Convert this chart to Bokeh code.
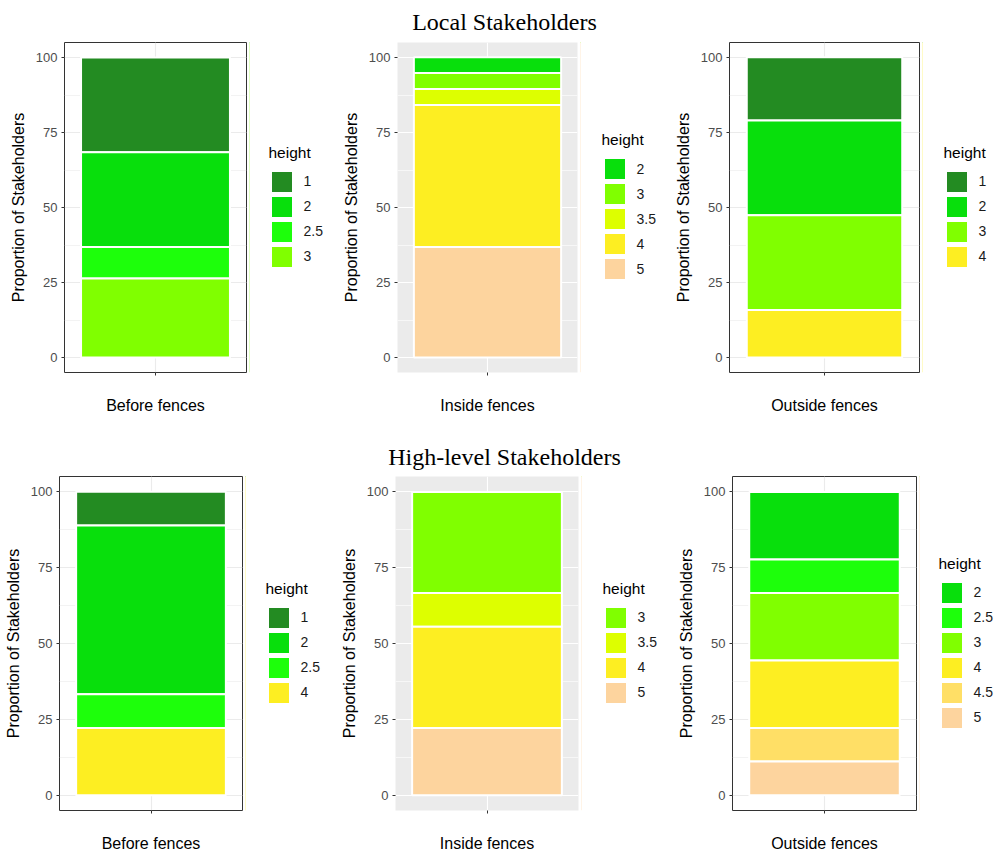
from bokeh.plotting import figure
from bokeh.models import (ColumnDataSource, Range1d, FixedTicker, Legend, LegendItem, Label)
from bokeh.layouts import column, row
from bokeh.embed import file_html
from bokeh.resources import INLINE

# ---- data ----
row_titles = ["Local Stakeholders", "High-level Stakeholders"]
x_labels = ["Before fences", "Inside fences", "Outside fences"]

local_before_levels = ["1", "2", "2.5", "3"]
local_before_vals = [31.6, 31.6, 10.5, 26.3]
local_inside_levels = ["2", "3", "3.5", "4", "5"]
local_inside_vals = [5.3, 5.3, 5.3, 47.4, 36.8]
local_outside_levels = ["1", "2", "3", "4"]
local_outside_vals = [21.1, 31.6, 31.6, 15.8]

high_before_levels = ["1", "2", "2.5", "4"]
high_before_vals = [11.1, 55.6, 11.1, 22.2]
high_inside_levels = ["3", "3.5", "4", "5"]
high_inside_vals = [33.3, 11.1, 33.3, 22.2]
high_outside_levels = ["2", "2.5", "3", "4", "4.5", "5"]
high_outside_vals = [22.2, 11.1, 22.2, 22.2, 11.1, 11.1]

y_ticks = [0, 25, 50, 75, 100]
y_minor = [12.5, 37.5, 62.5, 87.5]

level_colors = {
    "1": "#238B22", "2": "#08DF0C", "2.5": "#1DFF0B", "3": "#80FF00",
    "3.5": "#DDFF00", "4": "#FDEE22", "4.5": "#FFDF66", "5": "#FDD49E",
}

FONT = "Liberation Sans"
TOTAL_W = 995
ROW_H = 25


def stack(levels, vals):
    tops, bottoms = [], []
    cum = 0.0
    for v in reversed(vals):
        bottoms.insert(0, cum)
        cum += v
        tops.insert(0, cum)
    return dict(x=[1] * len(vals), top=tops, bottom=bottoms,
                color=[level_colors[l] for l in levels], label=list(levels))


def make_panel(levels, vals, xlabel, theme, col_w, left, frame_w, frame_h, top, bottom, leg_off):
    main_w = left + frame_w + 3
    h = top + frame_h + bottom
    p = figure(width=main_w, height=h, output_backend="svg",
               toolbar_location=None, x_range=Range1d(0.45, 1.55), y_range=Range1d(-5, 105),
               min_border_left=left, min_border_right=3,
               min_border_top=top, min_border_bottom=bottom)
    src = ColumnDataSource(stack(levels, vals))
    p.vbar(x="x", width=0.9, top="top", bottom="bottom", fill_color="color",
           line_color="white", line_width=2, source=src)

    if theme == "bw":
        p.background_fill_color = "white"
        p.outline_line_color = "#333333"
        p.outline_line_width = 1
        gcol = "#EBEBEB"
    else:
        p.background_fill_color = "#EBEBEB"
        p.outline_line_color = None
        gcol = "white"
    p.border_fill_color = "white"

    p.xaxis.ticker = FixedTicker(ticks=[1])
    p.yaxis.ticker = FixedTicker(ticks=y_ticks, minor_ticks=y_minor)
    p.xgrid.grid_line_color = gcol
    p.xgrid.grid_line_width = 1.1
    p.ygrid.grid_line_color = gcol
    p.ygrid.grid_line_width = 1.1
    p.ygrid.minor_grid_line_color = gcol
    p.ygrid.minor_grid_line_width = 0.6

    for ax in (p.xaxis[0], p.yaxis[0]):
        ax.axis_line_color = None
        ax.major_tick_line_color = "#333333"
        ax.major_tick_out = 3
        ax.major_tick_in = 0
        ax.minor_tick_line_color = None
        ax.major_label_text_font = FONT
        ax.major_label_text_font_size = "13px"
        ax.major_label_text_color = "#4D4D4D"
        ax.major_label_standoff = 3
        ax.axis_label_text_font = FONT
        ax.axis_label_text_font_size = "16px"
        ax.axis_label_text_font_style = "normal"
        ax.axis_label_text_color = "black"
    p.yaxis.axis_label = "Proportion of Stakeholders"
    p.yaxis.axis_label_standoff = 6
    p.xaxis.axis_label = xlabel
    p.xaxis.major_label_overrides = {1: " "}
    p.xaxis.major_label_text_alpha = 0
    p.xaxis.axis_label_standoff = 21

    # legend lives in its own small figure to the right of the panel
    # (its frame is aligned with the panel's frame by the row layout)
    lg = figure(width=col_w - main_w, height=h, output_backend="svg", toolbar_location=None,
                x_range=Range1d(0, 1), y_range=Range1d(0, 1),
                x_axis_type=None, y_axis_type=None,
                min_border_left=0, min_border_right=0, min_border_top=0, min_border_bottom=0)
    lg.outline_line_color = None
    lg.grid.visible = False
    lg.background_fill_color = "white"
    lg.border_fill_color = "white"
    lsrc = ColumnDataSource(stack(levels, vals))
    lr = lg.vbar(x="x", width=0.9, top="top", bottom="bottom", fill_color="color",
                 line_color=None, source=lsrc)
    lr.glyph.x = -10  # swatch source kept off-canvas; only legend keys show
    items = [LegendItem(label=l, renderers=[lr], index=i) for i, l in enumerate(levels)]
    n = len(levels)
    y_leg = frame_h / 2 - 11.5 - n * ROW_H / 2
    leg = Legend(items=items, location=(leg_off - 1, y_leg),
                 padding=0, margin=0, border_line_color=None, background_fill_alpha=0,
                 glyph_width=ROW_H, glyph_height=ROW_H, label_height=ROW_H, spacing=0,
                 label_standoff=10, label_text_font=FONT, label_text_font_size="14px",
                 label_text_color="#1A1A1A", title="height", title_text_font=FONT,
                 title_text_font_size="15.5px", title_text_font_style="normal",
                 title_text_color="black", title_standoff=7)
    lg.add_layout(leg)
    return row(p, lg)


def title_fig(text, height, y_from_bottom):
    t = figure(width=TOTAL_W, height=height, output_backend="svg", toolbar_location=None,
               x_range=Range1d(0, 1), y_range=Range1d(0, 1),
               x_axis_type=None, y_axis_type=None,
               min_border_left=0, min_border_right=0, min_border_top=0, min_border_bottom=0)
    t.grid.visible = False
    t.outline_line_color = None
    t.background_fill_color = "white"
    t.border_fill_color = "white"
    t.add_layout(Label(x=504, y=y_from_bottom, x_units="screen", y_units="screen",
                       text=text, text_align="center", text_baseline="middle",
                       text_font="Liberation Serif", text_font_size="24px",
                       text_color="black"))
    return t


r1 = row(
    make_panel(local_before_levels, local_before_vals, x_labels[0], "bw", 332, 64, 182, 330, 8, 56, 20.5),
    make_panel(local_inside_levels, local_inside_vals, x_labels[1], "gray", 332, 65, 180, 330, 8, 56, 22.5),
    make_panel(local_outside_levels, local_outside_vals, x_labels[2], "bw", 331, 65, 190, 330, 8, 56, 22.5),
)
r2 = row(
    make_panel(high_before_levels, high_before_vals, x_labels[0], "bw", 332, 59, 183, 334, 6, 44, 21.5),
    make_panel(high_inside_levels, high_inside_vals, x_labels[1], "gray", 332, 63, 183, 334, 6, 44, 22.5),
    make_panel(high_outside_levels, high_outside_vals, x_labels[2], "bw", 331, 68, 184, 334, 6, 44, 20.5),
)

t1 = title_fig(row_titles[0], 34, 13)
t2 = title_fig(row_titles[1], 42, 14)

layout = column(t1, r1, t2, r2)
open("out.html", "w").write(file_html(layout, INLINE))
